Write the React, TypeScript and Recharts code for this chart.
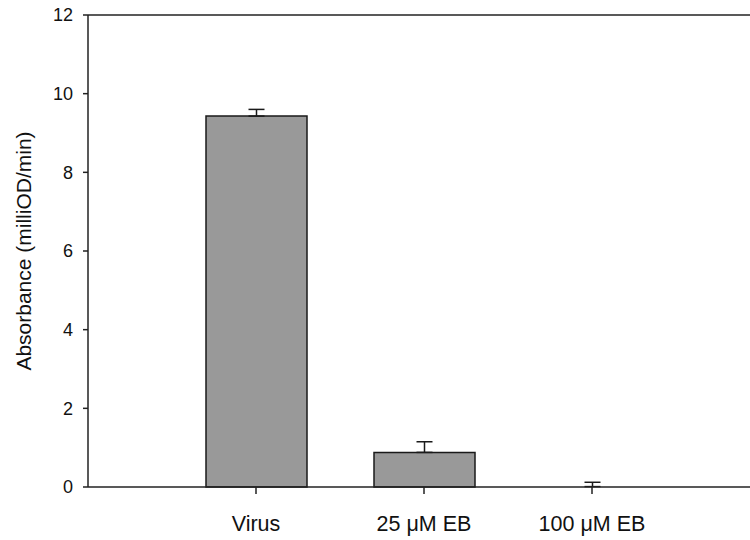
import { Bar, BarChart, Cell, ErrorBar, ReferenceLine, XAxis, YAxis } from "recharts";

const categories = ["Virus", "25 μM EB", "100 μM EB"];
const absorbance = [9.43, 0.88, 0.01];
const errorUp = [0.17, 0.27, 0.11];
const yTicks = [0, 2, 4, 6, 8, 10, 12];

const data = categories.map((name, i) => ({
    pos: i + 1,
    name,
    value: absorbance[i],
    err: [0, errorUp[i]],
}));

const font = '"Liberation Sans", Arial, sans-serif';

const YLabel = (props: any) => {
    const { viewBox } = props;
    const cy = viewBox.y + viewBox.height / 2;
    const cx = 23;
    return (
        <text
            x={cx}
            y={cy}
            transform={`rotate(-90, ${cx}, ${cy})`}
            textAnchor="middle"
            dominantBaseline="central"
            fontSize={21}
            fontFamily={font}
            fill="#111"
        >
            Absorbance (milliOD/min)
        </text>
    );
};

export default function App() {
    return (
        <div
            style={{
                position: "absolute",
                left: 0,
                top: 0,
                width: 750,
                height: 540,
                overflow: "hidden",
                background: "#fff",
                fontFamily: font,
            }}
        >
            <BarChart
                width={760}
                height={540}
                data={data}
                margin={{ top: 15, right: 0, left: 0, bottom: 0 }}
            >
                <XAxis
                    dataKey="pos"
                    type="number"
                    domain={[0, 4]}
                    ticks={[1, 2, 3]}
                    tickFormatter={(v: number) => categories[v - 1] ?? ""}
                    height={53}
                    tickSize={7}
                    tickMargin={22}
                    axisLine={{ stroke: "#222", strokeWidth: 1.5 }}
                    tickLine={{ stroke: "#222", strokeWidth: 1.5 }}
                    tick={{ fontSize: 21.5, fill: "#111", fontFamily: font }}
                />
                <YAxis
                    domain={[0, 12]}
                    ticks={yTicks}
                    width={88}
                    tickSize={5}
                    tickMargin={10}
                    axisLine={{ stroke: "#222", strokeWidth: 1.5 }}
                    tickLine={{ stroke: "#222", strokeWidth: 1.5 }}
                    tick={{ fontSize: 18, fill: "#111", fontFamily: font }}
                    label={<YLabel />}
                />
                <ReferenceLine y={12} stroke="#222" strokeWidth={1.5} />
                <Bar
                    dataKey="value"
                    barSize={101}
                    fill="#999999"
                    stroke="#1a1a1a"
                    strokeWidth={1.5}
                    isAnimationActive={false}
                >
                    {/* near-zero bar sits on the axis: no visible outline */}
                    {data.map((d) => (
                        <Cell
                            key={d.name}
                            stroke={d.value < 0.05 ? "none" : "#1a1a1a"}
                            fill={d.value < 0.05 ? "none" : "#999999"}
                        />
                    ))}
                    <ErrorBar
                        dataKey="err"
                        width={8}
                        stroke="#1a1a1a"
                        strokeWidth={1.5}
                        isAnimationActive={false}
                    />
                </Bar>
            </BarChart>
        </div>
    );
}
